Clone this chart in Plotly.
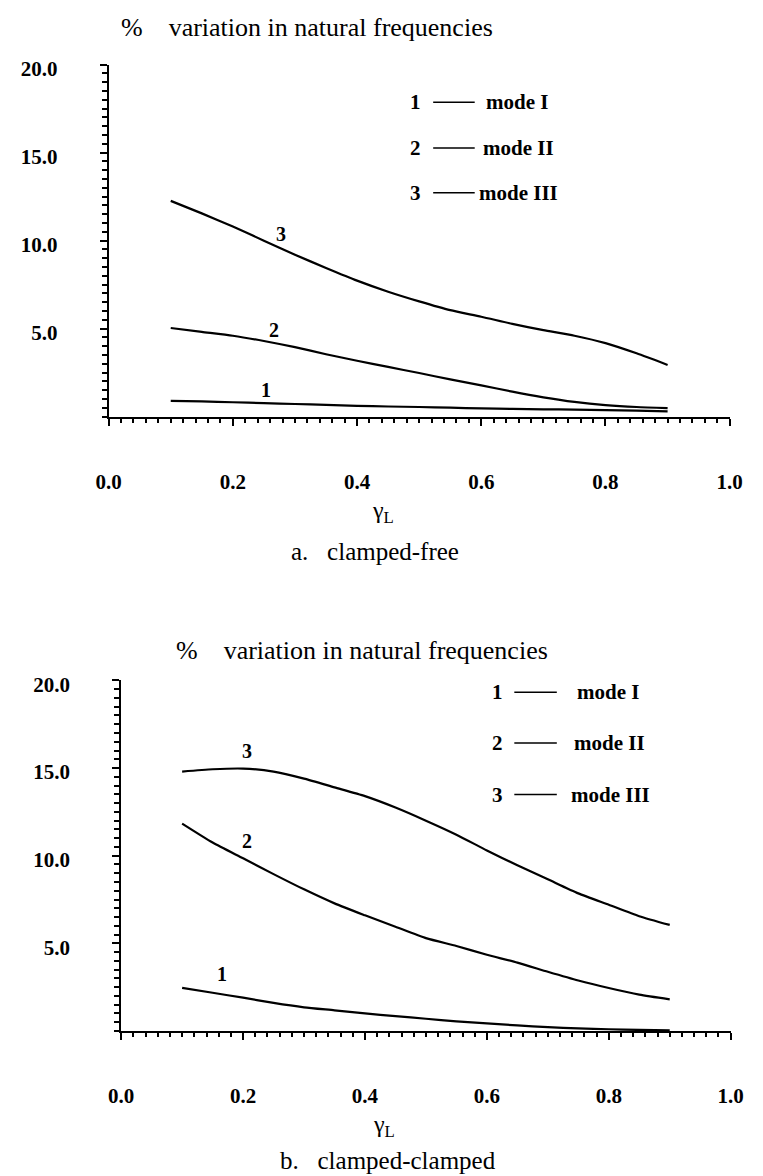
import plotly.graph_objects as go

# ---- data ----
gamma_L = [0.10, 0.15, 0.20, 0.25, 0.30, 0.35, 0.40, 0.45, 0.50,
           0.55, 0.60, 0.65, 0.70, 0.75, 0.80, 0.85, 0.90]

# a. clamped-free
cf_mode1 = [0.90, 0.87, 0.82, 0.77, 0.72, 0.67, 0.62, 0.58, 0.55,
            0.51, 0.47, 0.44, 0.42, 0.40, 0.37, 0.34, 0.30]
cf_mode2 = [5.04, 4.82, 4.60, 4.30, 3.95, 3.55, 3.18, 2.83, 2.48,
            2.12, 1.78, 1.42, 1.10, 0.84, 0.66, 0.55, 0.49]
cf_mode3 = [12.26, 11.55, 10.80, 10.00, 9.20, 8.45, 7.73, 7.10, 6.55,
            6.05, 5.68, 5.27, 4.92, 4.60, 4.18, 3.60, 2.94]

# b. clamped-clamped
cc_mode1 = [2.46, 2.18, 1.90, 1.60, 1.35, 1.18, 1.00, 0.85, 0.70,
            0.55, 0.43, 0.32, 0.22, 0.15, 0.10, 0.06, 0.04]
cc_mode2 = [11.83, 10.75, 9.85, 8.95, 8.08, 7.28, 6.60, 5.95, 5.30,
            4.85, 4.35, 3.90, 3.38, 2.88, 2.45, 2.07, 1.80]
cc_mode3 = [14.80, 14.93, 14.97, 14.80, 14.40, 13.90, 13.40, 12.75, 12.00,
            11.20, 10.30, 9.45, 8.65, 7.85, 7.20, 6.55, 6.05]

x_ticks = [0.0, 0.2, 0.4, 0.6, 0.8, 1.0]
y_ticks = [5.0, 10.0, 15.0, 20.0]
mode_names = ["mode I", "mode II", "mode III"]
curve_ids = ["1", "2", "3"]
panel_titles = ["% variation in natural frequencies", "% variation in natural frequencies"]
captions = ["a.   clamped-free", "b.   clamped-clamped"]

# curve-label anchor points (data coordinates)
cf_label_pos = [(0.253, 1.5), (0.266, 4.95), (0.278, 10.4)]
cc_label_pos = [(0.165, 3.25), (0.206, 10.85), (0.206, 16.0)]

W, H = 763, 1176
SERIF = "Liberation Serif, Times New Roman, serif"

fig = go.Figure()

def px_x(p):
    return p / W

def px_y(p):
    return 1 - p / H

panels = [
    dict(xa="x", ya="y", xd=[px_x(99), px_x(742)], yd=[px_y(411.5), px_y(57)],
         series=[cf_mode1, cf_mode2, cf_mode3], labels=cf_label_pos),
    dict(xa="x2", ya="y2", xd=[px_x(112), px_x(743)], yd=[px_y(1030), px_y(677)],
         series=[cc_mode1, cc_mode2, cc_mode3], labels=cc_label_pos),
]

for p in panels:
    for s in p["series"]:
        fig.add_trace(go.Scatter(x=gamma_L, y=s, mode="lines",
                                 line=dict(color="black", width=2.2, shape="spline", smoothing=0.6),
                                 xaxis=p["xa"], yaxis=p["ya"], showlegend=False,
                                 hoverinfo="skip"))
    for cid, (lx, ly) in zip(curve_ids, p["labels"]):
        fig.add_annotation(x=lx, y=ly, xref=p["xa"], yref=p["ya"], text=f"<b>{cid}</b>",
                           showarrow=False, font=dict(family=SERIF, size=20, color="black"),
                           xanchor="center", yanchor="middle")

def xaxis_cfg(domain, anchor):
    return dict(domain=domain, anchor=anchor, range=[0, 1], showgrid=False, zeroline=False,
                showline=True, linecolor="black", linewidth=2,
                ticks="outside", ticklen=7, tickwidth=2, tickcolor="black",
                tickvals=x_ticks, ticktext=[f"{v:.1f}" for v in x_ticks],
                ticklabelstandoff=38,
                tickfont=dict(family=SERIF, size=21, color="black", weight="bold"),
                minor=dict(dtick=0.02, tick0=0, ticks="outside", ticklen=4, tickwidth=1.5,
                           tickcolor="black", showgrid=False),
                fixedrange=True)

def yaxis_cfg(domain, anchor):
    return dict(domain=domain, anchor=anchor, range=[0, 20], showgrid=False, zeroline=False,
                showline=True, linecolor="black", linewidth=2,
                ticks="outside", ticklen=7, tickwidth=2, tickcolor="black",
                tickvals=y_ticks, ticktext=[f"{v:.1f}" for v in y_ticks],
                ticklabelstandoff=38, ticklabelshift=4,
                tickfont=dict(family=SERIF, size=21, color="black", weight="bold"),
                minor=dict(dtick=0.5, tick0=0, ticks="outside", ticklen=5, tickwidth=1.5,
                           tickcolor="black", showgrid=False),
                fixedrange=True)

fig.update_layout(
    width=W, height=H, autosize=False,
    margin=dict(l=0, r=0, t=0, b=0),
    paper_bgcolor="white", plot_bgcolor="white",
    showlegend=False,
    xaxis=xaxis_cfg(panels[0]["xd"], "y"),
    yaxis=yaxis_cfg(panels[0]["yd"], "x"),
    xaxis2=xaxis_cfg(panels[1]["xd"], "y2"),
    yaxis2=yaxis_cfg(panels[1]["yd"], "x2"),
)

# panel titles
for title, (tx, ty) in zip(panel_titles, [(110, 20), (167, 647)]):
    fig.add_annotation(x=px_x(tx), y=px_y(ty), xref="paper", yref="paper",
                       text=title.replace("% ", "%\u00a0\u00a0\u00a0\u00a0"),
                       showarrow=False, xanchor="left", yanchor="middle",
                       font=dict(family=SERIF, size=26, color="black"))

# x-axis titles and captions
for (gx, gy), (cx, cy), cap in zip([(383, 507), (384, 1126)], [(375, 547), (388, 1160)], captions):
    fig.add_annotation(x=px_x(gx), y=px_y(gy), xref="paper", yref="paper",
                       text="γ<sub>L</sub>", showarrow=False, xanchor="center", yanchor="middle",
                       font=dict(family=SERIF, size=24, color="black"))
    fig.add_annotation(x=px_x(cx), y=px_y(cy), xref="paper", yref="paper",
                       text=cap.replace("   ", "\u00a0\u00a0\u00a0"), showarrow=False,
                       xanchor="center", yanchor="middle",
                       font=dict(family=SERIF, size=25, color="black"))

# legends (number, line sample, name)
legend_specs = [
    dict(num_x=417, line=(435, 478), ys=[95, 141, 186], name_x=[488, 485, 480]),
    dict(num_x=502, line=(519, 563), ys=[689, 740, 792], name_x=[582, 579, 576]),
]
for spec in legend_specs:
    for cid, name, ly, nx in zip(curve_ids, mode_names, spec["ys"], spec["name_x"]):
        fig.add_annotation(x=px_x(spec["num_x"]), y=px_y(ly), xref="paper", yref="paper",
                           text=f"<b>{cid}</b>", showarrow=False, xanchor="center", yanchor="middle",
                           font=dict(family=SERIF, size=21, color="black"))
        fig.add_shape(type="line", xref="paper", yref="paper",
                      x0=px_x(spec["line"][0]), x1=px_x(spec["line"][1]),
                      y0=px_y(ly), y1=px_y(ly), line=dict(color="black", width=1.5))
        fig.add_annotation(x=px_x(nx), y=px_y(ly), xref="paper", yref="paper",
                           text=f"<b>{name}</b>", showarrow=False, xanchor="left", yanchor="middle",
                           font=dict(family=SERIF, size=21, color="black"))

fig.write_html(
    "out.html",
    config={"displayModeBar": False, "responsive": False},
    post_script=(
        "var d=document.getElementById('{plot_id}');"
        "d.style.position='fixed';d.style.left='0px';d.style.top='0px';"
        "document.body.style.margin='0';document.body.style.overflow='hidden';"
        "document.documentElement.style.overflow='hidden';"
    ),
)
